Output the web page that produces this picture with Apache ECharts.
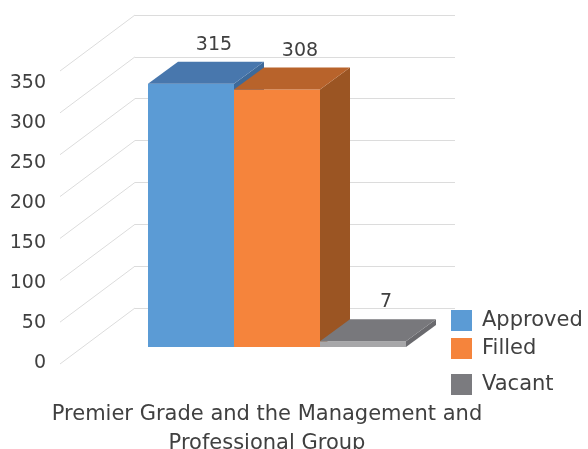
<!DOCTYPE html>
<html>
<head>
<meta charset="utf-8">
<script src="https://cdn.jsdelivr.net/npm/echarts@6/dist/echarts.min.js"></script>
<style>
  html, body { margin: 0; padding: 0; background: #ffffff; }
  #chart { width: 588px; height: 449px; }
</style>
</head>
<body>
<div id="chart"></div>
<script>
// ---- data ----
const categories = ['Premier Grade and the Management and\nProfessional Group'];
const seriesNames = ['Approved', 'Filled', 'Vacant'];
const approved = [315];
const filled = [308];
const vacant = [7];
const yTicks = [0, 50, 100, 150, 200, 250, 300, 350];

// ---- look ----
const FONT = 'DejaVu Sans';
const TEXT = '#404040';
const GRID_LINE = '#dcdcdc';
const DEPTH = [30, -22];      // front face -> back face of a bar
const FLOOR = [-75, 56];      // back wall -> front edge of the floor
const BAR_FRAC = 86 / 238;    // bar width as a share of the category band

const faces = {
  Approved: { front: '#5B9BD5', top: '#4877AD', side: '#3E6A9A', legend: '#5B9BD5' },
  Filled:   { front: '#F5843C', top: '#B8632B', side: '#9B5523', legend: '#F5843C' },
  Vacant:   { front: '#A7A7A9', top: '#78787C', side: '#6A6A6E', legend: '#7B7B7F' }
};

// a box-shaped bar: right side, front face, top face and value label
function barRenderer(slot, name) {
  return function (params, api) {
    const v = api.value(1);
    const base = api.coord([api.value(0), 0]);
    const top = api.coord([api.value(0), v]);
    const band = api.size([1, 0])[0];
    const w = band * BAR_FRAC;
    const x0 = base[0] - band / 2 + slot * w;
    const x1 = x0 + w;
    const yb = base[1], yt = top[1];
    const dx = DEPTH[0], dy = DEPTH[1];
    const c = faces[name];
    return {
      type: 'group',
      children: [
        { type: 'polygon',
          shape: { points: [[x1, yb], [x1 + dx, yb + dy], [x1 + dx, yt + dy], [x1, yt]] },
          style: { fill: c.side } },
        { type: 'rect',
          shape: { x: x0, y: yt, width: w, height: yb - yt },
          style: { fill: c.front } },
        { type: 'polygon',
          shape: { points: [[x0, yt], [x0 + dx, yt + dy], [x1 + dx, yt + dy], [x1, yt]] },
          style: { fill: c.top } },
        { type: 'text', x: (x0 + x1) / 2 + 23, y: yt - 39,
          style: { text: String(v), fill: TEXT, font: '19px "' + FONT + '"',
                   align: 'center', verticalAlign: 'middle' } }
      ]
    };
  };
}

// perspective floor lines from the back wall to the front-left edge
function floorLineRenderer(params, api) {
  const p = api.coord([0, api.value(1)]);
  const x = params.coordSys.x;
  return {
    type: 'line',
    shape: { x1: x, y1: p[1], x2: x + FLOOR[0], y2: p[1] + FLOOR[1] },
    style: { stroke: GRID_LINE, lineWidth: 1 }
  };
}

const chart = echarts.init(document.getElementById('chart'));

const option = {
  animation: false,
  color: seriesNames.map(n => faces[n].legend),
  textStyle: { fontFamily: FONT },
  grid: [
    // back wall
    { left: 135, top: 15, width: 320, height: 293, outerBoundsMode: 'none', containLabel: false },
    // front plane of the bars
    { left: 148, top: 54.5, width: 238, height: 292.5, outerBoundsMode: 'none', containLabel: false },
    // value labels on the front-left edge
    { left: 54, top: 83.5, width: 10, height: 280, outerBoundsMode: 'none', containLabel: false }
  ],
  xAxis: [
    { gridIndex: 0, type: 'category', data: categories, show: false },
    { gridIndex: 1, type: 'category', data: categories,
      axisLine: { show: false }, axisTick: { show: false },
      axisLabel: { interval: 0, margin: 53, fontSize: 21, lineHeight: 29,
                   color: TEXT, fontFamily: FONT } },
    { gridIndex: 2, type: 'value', show: false }
  ],
  yAxis: [
    { gridIndex: 0, type: 'value', min: 0, max: 350, interval: 50,
      axisLine: { show: false }, axisTick: { show: false }, axisLabel: { show: false },
      splitLine: { show: true, lineStyle: { color: GRID_LINE, width: 1 } } },
    { gridIndex: 1, type: 'value', min: 0, max: 350, interval: 50, show: false },
    { gridIndex: 2, type: 'value', min: 0, max: 350, interval: 50,
      axisLine: { show: false }, axisTick: { show: false }, splitLine: { show: false },
      axisLabel: { margin: 8, fontSize: 19, color: TEXT, fontFamily: FONT,
                   formatter: v => (yTicks.indexOf(v) >= 0 ? String(v) : '') } }
  ],
  legend: seriesNames.map((n, i) => ({
    data: [{ name: n, icon: 'rect', itemStyle: { color: faces[n].legend } }],
    left: 451, top: [310, 338, 374][i],
    padding: 0, itemWidth: 21, itemHeight: 21, itemGap: 0,
    selectedMode: false,
    textStyle: { fontFamily: FONT, fontSize: 21, color: TEXT, lineHeight: 21,
                 padding: [0, 0, 0, 5] }
  })),
  series: [
    { type: 'custom', name: '_floor', xAxisIndex: 0, yAxisIndex: 0, silent: true,
      renderItem: floorLineRenderer, data: yTicks.map(v => [0, v]), z: 1 },
    { type: 'custom', name: 'Approved', xAxisIndex: 1, yAxisIndex: 1, z: 2,
      itemStyle: { color: faces.Approved.legend },
      renderItem: barRenderer(0, 'Approved'), data: approved.map((v, i) => [i, v]) },
    { type: 'custom', name: 'Filled', xAxisIndex: 1, yAxisIndex: 1, z: 2,
      itemStyle: { color: faces.Filled.legend },
      renderItem: barRenderer(1, 'Filled'), data: filled.map((v, i) => [i, v]) },
    { type: 'custom', name: 'Vacant', xAxisIndex: 1, yAxisIndex: 1, z: 2,
      itemStyle: { color: faces.Vacant.legend },
      renderItem: barRenderer(2, 'Vacant'), data: vacant.map((v, i) => [i, v]) }
  ]
};

chart.setOption(option);
</script>
</body>
</html>
